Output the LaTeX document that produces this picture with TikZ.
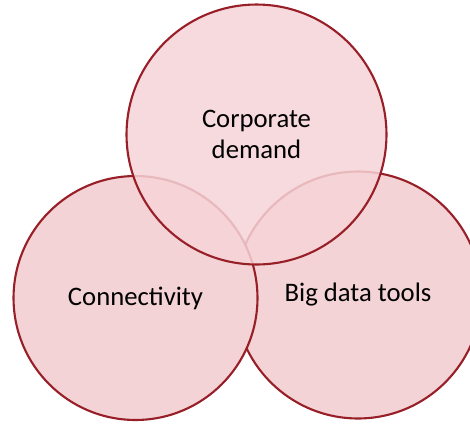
\documentclass[tikz,border=0pt]{standalone}
\usepackage{fontspec}
\setmainfont{Carlito}
\usepackage{tikz}
\definecolor{vennline}{RGB}{152,30,40}
\definecolor{vennfill}{RGB}{243,211,213}
\definecolor{vennfilltop}{RGB}{246,211,215}

\begin{document}
\begin{tikzpicture}[x=0.02cm,y=-0.02cm,
        venn/.style={circle,draw=vennline,line width=1.2pt,
            fill=vennfill,text opacity=1,
            align=center,font=\fontsize{15.2}{17.5}\selectfont}]
    \useasboundingbox (0,0) rectangle (470,424);
    \node[venn,minimum size=4.94cm] (tools) at (358,295) {Big data tools};
    \node[venn,minimum size=4.88cm] (conn) at (135.5,298) {Connectivity};
    \node[venn,fill=vennfilltop,fill opacity=0.85,minimum size=5.2cm] (demand) at (256.5,134.5) {Corporate\\demand};
\end{tikzpicture}
\end{document}
